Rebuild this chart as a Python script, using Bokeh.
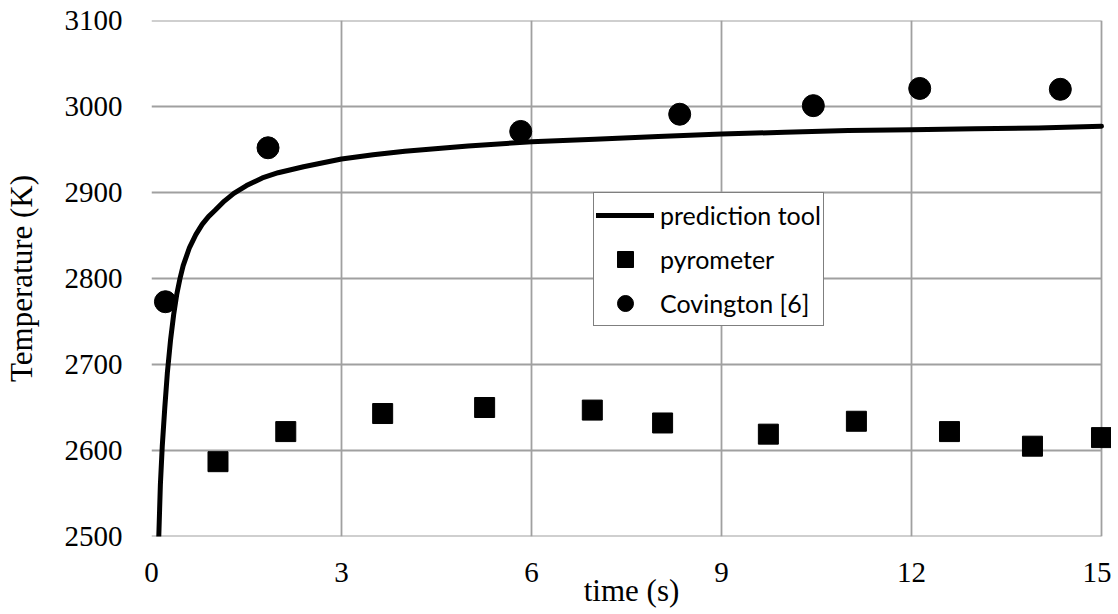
from bokeh.plotting import figure
from bokeh.models import Range1d, FixedTicker, Legend, LegendItem
from bokeh.embed import file_html
from bokeh.resources import INLINE

# prediction tool curve
pred_t = [0.115, 0.14, 0.17, 0.21, 0.25, 0.30, 0.35, 0.40, 0.45, 0.50, 0.60, 0.70,
          0.80, 0.90, 1.0, 1.15, 1.3, 1.5, 1.75, 2.0, 2.4, 3.0, 3.5, 4.0, 5.0,
          6.0, 7.0, 8.0, 9.0, 10.0, 11.0, 12.0, 13.0, 14.0, 15.0]
pred_T = [2500, 2560, 2605, 2650, 2690, 2728, 2758, 2782, 2800, 2815, 2836, 2851,
          2863, 2872, 2879, 2890, 2899, 2908, 2917, 2923, 2930, 2939, 2944, 2948, 2954,
          2959, 2962, 2965, 2968, 2970, 2972, 2973, 2974, 2975, 2977]

# pyrometer measurements
pyr_t = [1.05, 2.12, 3.65, 5.26, 6.96, 8.07, 9.74, 11.13, 12.6, 13.91, 15.0]
pyr_T = [2587, 2622, 2643, 2650, 2647, 2632, 2619, 2634, 2622, 2605, 2615]

# Covington [6]
cov_t = [0.22, 1.84, 5.83, 8.34, 10.45, 12.13, 14.35]
cov_T = [2773, 2952, 2971, 2991, 3001, 3021, 3020]

x_ticks = [0, 3, 6, 9, 12, 15]
y_ticks = [2500, 2600, 2700, 2800, 2900, 3000, 3100]

SERIF = "Liberation Serif"
TICK_FONT = "Times New Roman"
GRID = "#a0a0a0"

p = figure(frame_width=960, frame_height=516, output_backend="svg", toolbar_location=None,
           x_range=Range1d(0, 15.158), y_range=Range1d(2500, 3100),
           min_border_left=150, min_border_right=0,
           min_border_top=20, min_border_bottom=76)

p.outline_line_color = None
p.background_fill_color = "white"
p.border_fill_color = "white"

p.xgrid.ticker = FixedTicker(ticks=x_ticks)
p.xgrid.grid_line_color = GRID
p.xgrid.grid_line_width = 1.8
p.ygrid.grid_line_color = None

# horizontal grid lines limited to the data span of the x axis
n = len(y_ticks)
p.segment(x0=[x_ticks[0]] * n, x1=[x_ticks[-1]] * n, y0=y_ticks, y1=y_ticks,
          line_color=GRID, line_width=1.8)

p.xaxis.ticker = FixedTicker(ticks=x_ticks)
p.yaxis.ticker = FixedTicker(ticks=y_ticks)
for ax in p.xaxis + p.yaxis:
    ax.axis_line_color = None
    ax.major_tick_line_color = None
    ax.minor_tick_line_color = None
    ax.major_tick_in = 0
    ax.major_tick_out = 0
    ax.minor_tick_in = 0
    ax.minor_tick_out = 0
    ax.major_label_text_font = TICK_FONT
    ax.major_label_text_font_size = "29px"
    ax.major_label_text_color = "black"
    ax.axis_label_text_font = SERIF
    ax.axis_label_text_font_size = "31px"
    ax.axis_label_text_font_style = "normal"
    ax.axis_label_text_color = "black"

p.xaxis.axis_label = "time (s)"
p.yaxis.axis_label = "Temperature (K)"
p.xaxis.major_label_standoff = 26
p.xaxis.axis_label_standoff = -12
p.yaxis.major_label_standoff = 29
p.yaxis.axis_label_standoff = 23

line_r = p.line(pred_t, pred_T, line_color="black", line_width=5,
                line_cap="round", line_join="round")
sq_r = p.scatter(pyr_t, pyr_T, marker="square", size=20,
                 fill_color="black", line_color="black")
ci_r = p.scatter(cov_t, cov_T, marker="circle", size=22,
                 fill_color="black", line_color="black")

legend = Legend(items=[
    LegendItem(label="prediction tool", renderers=[line_r]),
    LegendItem(label="pyrometer", renderers=[sq_r]),
    LegendItem(label="Covington [6]", renderers=[ci_r]),
], location=(442, 210))
legend.margin = 0
legend.padding = 2
legend.spacing = 4
legend.glyph_height = 40
legend.label_height = 40
legend.glyph_width = 58
legend.label_standoff = 6
legend.label_text_font = "Lato"
legend.label_text_font_size = "25px"
legend.label_text_color = "black"
legend.border_line_color = "black"
legend.border_line_width = 1.5
legend.background_fill_color = "white"
legend.background_fill_alpha = 1.0
p.add_layout(legend)

open("out.html", "w").write(file_html(p, INLINE))
